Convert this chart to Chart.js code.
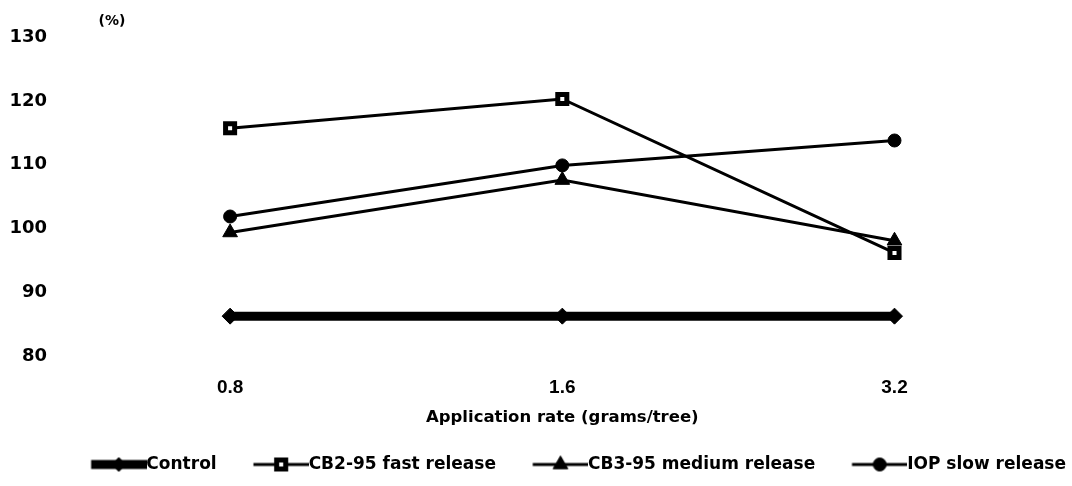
<!DOCTYPE html>
<html>
<head>
<meta charset="utf-8">
<script src="https://cdn.jsdelivr.net/npm/chart.js@4.4.1/dist/chart.umd.min.js"></script>
<style>
  html, body { margin: 0; padding: 0; background: #fff; }
  #wrap { width: 1072px; height: 486px; }
</style>
</head>
<body>
<div id="wrap"><canvas id="chart" width="1072" height="486"></canvas></div>
<script>
// Application rates (grams/tree) on the category axis
const rates = ['0.8', '1.6', '3.2'];

// Response in % for each treatment
const control   = [86.3, 86.3, 86.3];
const cb2Fast   = [115.7, 120.3, 96.2];
const cb3Medium = [99.4, 107.6, 98.1];
const iopSlow   = [101.9, 109.9, 113.8];

const seriesNames = ['Control', 'CB2-95 fast release', 'CB3-95 medium release', 'IOP slow release'];
const yTicks = [80, 90, 100, 110, 120, 130];

const INK = '#000';
const LEGEND_FONT = 17;
const SAMPLE_LINE = 55;   // visible length of a legend line sample (runs up to the text)
const SAMPLE_GAP = 31;    // blank space before each sample
const ITEM_PAD = 6;       // legend padding

// Marker / line styling per series
const styles = [
  { line: 9, pointStyle: 'rectRot', radius: 8, fill: INK, border: 1 },
  { line: 3, pointStyle: 'rect', radius: 6.4, fill: '#fff', border: 5 },
  { line: 3, pointStyle: 'triangle', radius: 8.5, fill: INK, border: 1 },
  { line: 3, pointStyle: 'circle', radius: 6.5, fill: INK, border: 1 }
];

const BOX_W = SAMPLE_LINE - LEGEND_FONT / 2 + SAMPLE_GAP;

// Legend sample: a short line with the series marker in its middle.
// The canvas is centred on the legend box, so it spans box + half the font size on each side.
function legendSample(st) {
  const w = Math.round(BOX_W + LEGEND_FONT);
  const h = 24;
  const c = document.createElement('canvas');
  c.width = w; c.height = h;
  const g = c.getContext('2d');
  const x0 = LEGEND_FONT / 2 + SAMPLE_GAP;
  const x1 = w;
  const cy = h / 2;
  g.strokeStyle = INK;
  g.lineWidth = st.line;
  g.beginPath();
  g.moveTo(x0, cy);
  g.lineTo(x1, cy);
  g.stroke();
  g.fillStyle = st.fill;
  g.strokeStyle = INK;
  g.lineWidth = st.border;
  Chart.helpers.drawPoint(g, {
    pointStyle: st.pointStyle,
    radius: st.pointStyle === 'rectRot' ? st.radius - 1 : st.radius,
    rotation: 0,
    borderWidth: st.border
  }, (x0 + x1) / 2, cy);
  return c;
}
const samples = styles.map(legendSample);

function dataset(label, data, st) {
  return {
    label: label,
    data: data,
    borderColor: INK,
    backgroundColor: INK,
    borderWidth: st.line,
    tension: 0,
    pointStyle: st.pointStyle,
    pointRadius: st.radius,
    pointBackgroundColor: st.fill,
    pointBorderColor: INK,
    pointBorderWidth: st.border
  };
}

// "(%)" unit label above the value axis
const unitLabel = {
  id: 'unitLabel',
  afterDraw(chart) {
    const { ctx, chartArea } = chart;
    ctx.save();
    ctx.font = 'bold 14px "DejaVu Sans"';
    ctx.fillStyle = INK;
    ctx.textAlign = 'center';
    ctx.textBaseline = 'middle';
    ctx.fillText('(%)', chartArea.left + 48, chartArea.top - 16);
    ctx.restore();
  }
};

new Chart(document.getElementById('chart'), {
  type: 'line',
  data: {
    labels: rates,
    datasets: [
      dataset(seriesNames[0], control, styles[0]),
      dataset(seriesNames[1], cb2Fast, styles[1]),
      dataset(seriesNames[2], cb3Medium, styles[2]),
      dataset(seriesNames[3], iopSlow, styles[3])
    ]
  },
  options: {
    responsive: false,
    devicePixelRatio: 1,
    animation: false,
    events: [],
    layout: { padding: { top: 37, left: 8, right: 0, bottom: 3 } },
    scales: {
      x: {
        type: 'category',
        offset: true,
        grid: { display: false, drawTicks: false },
        border: { display: false },
        ticks: {
          color: INK,
          padding: 20,
          maxRotation: 0,
          font: { family: '"Liberation Sans", Arial, sans-serif', size: 19, weight: 'bold' }
        },
        title: {
          display: true,
          text: 'Application rate (grams/tree)',
          color: INK,
          padding: { top: -11, bottom: 22 },
          font: { family: '"DejaVu Sans", sans-serif', size: 16.5, weight: 'bold' }
        },
        // the category offset already keeps the end labels inside the plot
        afterFit(scale) { scale.paddingLeft = 0; scale.paddingRight = 0; }
      },
      y: {
        min: yTicks[0],
        max: yTicks[yTicks.length - 1],
        grid: { display: false, drawTicks: false },
        border: { display: false },
        ticks: {
          stepSize: yTicks[1] - yTicks[0],
          color: INK,
          padding: 17,
          font: { family: '"DejaVu Sans", sans-serif', size: 18, weight: 'bold' }
        },
        afterFit(scale) { scale.width = 56; }
      }
    },
    plugins: {
      tooltip: { enabled: false },
      legend: {
        position: 'bottom',
        align: 'end',
        labels: {
          usePointStyle: true,
          pointStyleWidth: BOX_W,
          padding: ITEM_PAD,
          color: INK,
          font: { family: '"DejaVu Sans", sans-serif', size: LEGEND_FONT, weight: 'bold' },
          generateLabels(chart) {
            const items = Chart.defaults.plugins.legend.labels.generateLabels(chart);
            items.forEach((it, i) => { it.pointStyle = samples[i]; });
            return items;
          }
        }
      }
    }
  },
  plugins: [unitLabel]
});
</script>
</body>
</html>
